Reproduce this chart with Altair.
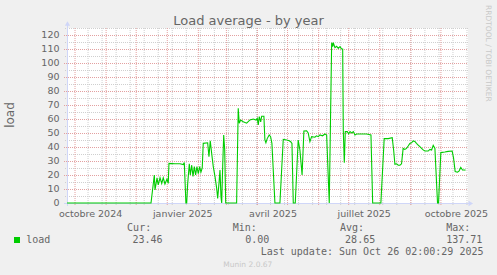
import altair as alt
import pandas as pd

# ---------------- data ----------------
BASE = "2024-10-01"  # day 0
load_day = [-8, 75.8, 79.1, 79.8, 81.8, 83, 84.8, 86.5, 88, 89.7, 91.7, 93, 93.7, 99.7, 104.7,
            108, 109, 110.6, 111.4, 112.4, 114, 115, 116.4, 117.7, 119, 120.3, 121.6, 123, 124.3,
            125.6, 126.9, 127.9, 132.3, 133.6, 134.9, 136.3, 137.9, 139.6, 141.3, 142.3, 143.6,
            144.6, 145.6, 146.3, 147.3, 148.3, 149.3, 150.3, 161.2, 162.8, 163.8, 165.2, 167.8,
            171.2, 174.5, 177.8, 180.5, 181.8, 182.8, 183.8, 185.2, 186.2, 188.4, 189.4, 190.4,
            191.7, 193.7, 195.1, 196.4, 199.4, 204.4, 207.7, 211.1, 213.7, 215.1, 216.4, 217.7,
            219.7, 222.6, 224.3, 226.5, 228.3, 231, 232.6, 234.3, 236, 239.3, 240.9, 242.6, 244.3,
            246.9, 249.3, 251, 253.6, 256, 257, 257.6, 259.3, 261, 262.6, 264.3, 266, 267, 267.6,
            268.6, 269.6, 271.6, 273, 274.3, 276, 277.6, 279.2, 280.9, 290.9, 295.2, 296.9, 305.1,
            308.4, 312.4, 316.4, 317.8, 319.1, 320.8, 322.4, 324.1, 325.7, 327.3, 329, 330.7,
            332.3, 334, 335.7, 337.3, 339, 340.6, 342.3, 344, 345.7, 347.3, 349, 352.3, 354,
            355.7, 357.3, 359, 361.6, 362.6, 364.9, 368.9, 372.2, 376.2, 377.6, 379.2, 381.5,
            383.2, 384.8, 386.5, 388.1, 389.5]
load_value = [0, 0, 20, 9.3, 18, 13, 18, 14, 18, 13.6, 17, 14, 28.3, 28, 28,
              27.5, 29, 0, 0, 14, 28, 20, 27, 19, 26, 20, 26, 21, 26,
              22, 25, 42.6, 43, 33, 44.5, 35.5, 26, 19, 10.5, 3.3, 14,
              23.6, 4.5, 0, 26, 48.6, 38, 0, 0, 67.6, 57, 59.3, 58,
              57, 59.3, 60, 59.3, 60.5, 55.7, 61.7, 58, 62, 62, 45, 43,
              46, 48.6, 47.4, 42.6, 0, 0, 45.5, 45, 44.5, 43.8, 42.6, 0,
              0, 45, 38, 20, 51.5, 51.6, 50, 43.8, 47.4, 47, 48, 47.4, 48.6,
              48, 49.3, 48.6, 0, 114.5, 111.7, 114.5, 111, 112, 110.5, 111.7, 110, 110, 52,
              28.8, 51, 51, 49.3, 51, 50, 51, 48.6, 49.3, 49.3, 48.6, 0, 0,
              46, 46, 46.7, 38, 27.6, 28, 27, 27, 28, 39, 38.3, 39,
              40.7, 42.6, 43, 44.3, 44, 42.6, 41.4, 40.2, 39, 37.9, 37.1, 37.1, 38.3,
              37.9, 41.2, 39, 0, 0, 36, 36.4, 36.9, 37.1, 32, 22.4, 22,
              23, 25.5, 23.6, 23.6, 23.46]

y_ticks = [0, 10, 20, 30, 40, 50, 60, 70, 80, 90, 100, 110, 120]
x_label_dates = ["2024-10-16 12:00", "2025-01-16 12:00", "2025-04-16 12:00",
                 "2025-07-16 12:00", "2025-10-16 12:00"]
x_label_text = ["octobre 2024", "janvier 2025", "avril 2025", "juillet 2025", "octobre 2025"]

legend_head = ["Cur:", "Min:", "Avg:", "Max:"]
legend_vals = ["23.46", "0.00", "28.65", "137.71"]


def to_days(dates):
    b = pd.Timestamp(BASE)
    return [(pd.Timestamp(d) - b) / pd.Timedelta(days=1) for d in dates]


month_days = to_days(pd.date_range("2024-10-01", "2025-10-01", freq="MS"))
minor_days = to_days(pd.date_range("2024-10-14", "2025-10-27", freq="14D"))

# ---------------- styles ----------------
GREEN = "#00CC00"
FONT_C = "#666666"
AXIS_C = "#CFD6F8"
MAJ_C = "#E3A0A0"
MIN_C = "#CFCFCF"
SANS = "DejaVu Sans"
MONO = "DejaVu Sans Mono"

XS = alt.Scale(domain=[-8, 392], nice=False, zero=False)
YS = alt.Scale(domain=[0, 125], nice=False, zero=True)

one = pd.DataFrame({"a": [0]})

df_line = pd.DataFrame({"day": load_day, "v": load_value})
df_ymin = pd.DataFrame({"v": [5 + 10 * i for i in range(13)]})
df_ymaj = pd.DataFrame({"v": y_ticks[1:]})
df_xmin = pd.DataFrame({"d": minor_days})
df_xmaj = pd.DataFrame({"d": month_days})
df_ylab = pd.DataFrame({"v": y_ticks, "t": [str(t) for t in y_ticks]})
df_xlab = pd.DataFrame({"d": to_days(x_label_dates), "t": x_label_text})

layers = []

layers.append(alt.Chart(df_ymin).mark_rule(color=MIN_C, strokeDash=[1, 1], strokeWidth=1, yOffset=0.5).encode(
    y=alt.Y("v:Q", scale=YS, axis=None), x=alt.value(-2), x2=alt.value(401)))
layers.append(alt.Chart(df_xmin).mark_rule(color=MIN_C, strokeDash=[1, 1], strokeWidth=1).encode(
    x=alt.X("d:Q", scale=XS, axis=None), y=alt.value(0), y2=alt.value(177)))
layers.append(alt.Chart(df_ymaj).mark_rule(color=MAJ_C, strokeDash=[1, 1], strokeWidth=1, yOffset=0.5).encode(
    y=alt.Y("v:Q", scale=YS, axis=None), x=alt.value(-3), x2=alt.value(401)))
layers.append(alt.Chart(df_xmaj).mark_rule(color=MAJ_C, strokeDash=[1, 1], strokeWidth=1).encode(
    x=alt.X("d:Q", scale=XS, axis=None), y=alt.value(0), y2=alt.value(178)))

# axes lines and arrows
layers.append(alt.Chart(one).mark_rule(color=AXIS_C, strokeWidth=1).encode(
    x=alt.value(-3), x2=alt.value(402), y=alt.value(175.5)))
layers.append(alt.Chart(one).mark_rule(color=AXIS_C, strokeWidth=1).encode(
    x=alt.value(0.5), y=alt.value(-3), y2=alt.value(178)))
layers.append(alt.Chart(one).mark_point(shape="triangle-up", filled=True, size=28, color=AXIS_C, opacity=1).encode(
    x=alt.value(0.5), y=alt.value(-4.5)))
layers.append(alt.Chart(one).mark_point(shape="triangle-right", filled=True, size=28, color=AXIS_C, opacity=1).encode(
    x=alt.value(403.8), y=alt.value(175.5)))

# data line
layers.append(alt.Chart(df_line).mark_line(color=GREEN, strokeWidth=1.1).encode(
    x=alt.X("day:Q", scale=XS, axis=None), y=alt.Y("v:Q", scale=YS, axis=None)))

# tick labels
layers.append(alt.Chart(df_ylab).mark_text(align="right", baseline="middle", font=SANS, fontSize=9.5,
                                           color=FONT_C).encode(
    y=alt.Y("v:Q", scale=YS, axis=None), x=alt.value(-7.5), text="t:N"))
layers.append(alt.Chart(df_xlab).mark_text(align="center", baseline="alphabetic", font=SANS, fontSize=9.5,
                                           color=FONT_C).encode(
    x=alt.X("d:Q", scale=XS, axis=None), y=alt.value(188.6), text="t:N"))

# title, unit label, watermark
layers.append(alt.Chart(one).mark_text(text="Load average - by year", align="center", baseline="alphabetic",
                                       font=SANS, fontSize=13, color=FONT_C).encode(
    x=alt.value(181.5), y=alt.value(-3)))
layers.append(alt.Chart(one).mark_text(text="load", align="center", baseline="middle", angle=270,
                                       font=SANS, fontSize=12, color=FONT_C).encode(
    x=alt.value(-57), y=alt.value(87)))
layers.append(alt.Chart(one).mark_text(text="RRDTOOL / TOBI OETIKER", align="center", baseline="middle", angle=90,
                                       font=SANS, fontSize=7.5, color="#C8C8C8").encode(
    x=alt.value(421.3), y=alt.value(25.3)))

# legend
layers.append(alt.Chart(one).mark_square(size=36, color=GREEN, opacity=1).encode(
    x=alt.value(-50), y=alt.value(212)))
layers.append(alt.Chart(one).mark_text(text="load", align="left", baseline="alphabetic",
                                       font=MONO, fontSize=10, color=FONT_C).encode(
    x=alt.value(-40.8), y=alt.value(214.7)))
head_x = [60.1, 165.8, 273, 379.2]
val_x = [65.4, 178.3, 278.1, 379.2]
for h, hx in zip(legend_head, head_x):
    layers.append(alt.Chart(one).mark_text(text=h, align="left", baseline="alphabetic",
                                           font=MONO, fontSize=10, color=FONT_C).encode(
        x=alt.value(hx), y=alt.value(202.7)))
for v, vx in zip(legend_vals, val_x):
    layers.append(alt.Chart(one).mark_text(text=v, align="left", baseline="alphabetic",
                                           font=MONO, fontSize=10, color=FONT_C).encode(
        x=alt.value(vx), y=alt.value(214.7)))
layers.append(alt.Chart(one).mark_text(text="Last update: Sun Oct 26 02:00:29 2025", align="left",
                                       baseline="alphabetic", font=MONO, fontSize=10, color=FONT_C).encode(
    x=alt.value(193.7), y=alt.value(227)))
layers.append(alt.Chart(one).mark_text(text="Munin 2.0.67", align="left", baseline="alphabetic",
                                       font=SANS, fontSize=7.5, color="#C8C8C8").encode(
    x=alt.value(156.3), y=alt.value(238.7)))

chart = alt.layer(*layers).properties(
    width=401, height=175,
    autosize=alt.AutoSizeParams(type="none"),
    padding={"left": 67, "top": 28, "right": 29, "bottom": 72},
    background="#F0F0F0",
).configure_view(strokeWidth=0, fill="white")

chart.save("out.html", embed_options={"renderer": "svg", "actions": False})
